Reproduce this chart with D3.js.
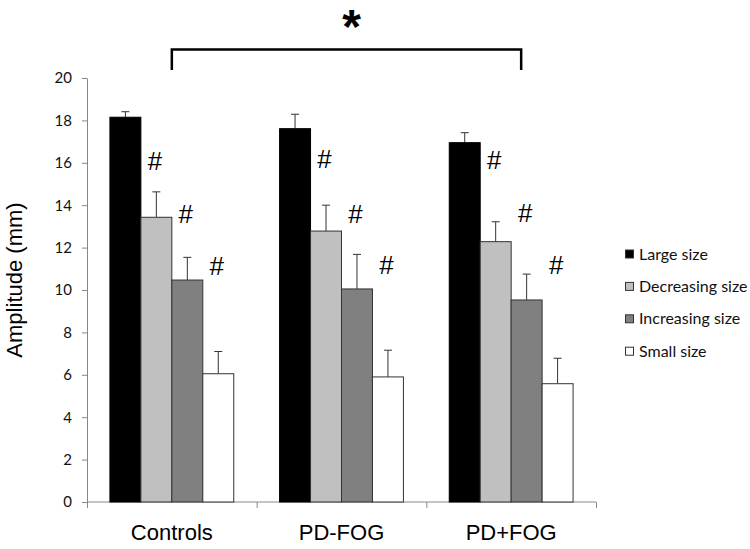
<!DOCTYPE html>
<html>
<head>
<meta charset="utf-8">
<script src="https://cdn.jsdelivr.net/npm/d3@7"></script>
<style>
  body { margin: 0; background: #fff; }
  #bar { width: 750px; height: 549px; }
</style>
</head>
<body>
<div id="bar"></div>
<script>
const groups = ["Controls", "PD-FOG", "PD+FOG"];
const series = ["Large size", "Decreasing size", "Increasing size", "Small size"];
const colors = ["#000000", "#c0c0c0", "#808080", "#ffffff"];

// means per group, in series order
const means = [
  [18.15, 13.43, 10.47, 6.05],
  [17.61, 12.78, 10.05, 5.90],
  [16.95, 12.28, 9.53, 5.58]
];
const errors = [
  [0.26, 1.2, 1.07, 1.05],
  [0.68, 1.22, 1.63, 1.26],
  [0.47, 0.94, 1.22, 1.2]
];
// y position (axis units) of the "#" marks next to bars 2-4
const hashY = [
  [16.1, 13.6, 11.15],
  [16.2, 13.6, 11.2],
  [16.15, 13.65, 11.2]
];
const yTicks = [0, 2, 4, 6, 8, 10, 12, 14, 16, 18, 20];

function drawBar() {
  const container = d3.select("#bar");
  container.selectAll("*").remove();

  const width = 750;
  const height = 549;
  const margin = { top: 78, right: 154, bottom: 47, left: 87 };

  const svg = container
    .append("svg")
    .attr("width", width)
    .attr("height", height);

  const x0 = d3.scaleBand()
    .domain(groups)
    .range([margin.left, width - margin.right])
    .padding(0);

  const x1 = d3.scaleBand()
    .domain(series)
    .range([0, x0.bandwidth()])
    .paddingInner(0)
    .paddingOuter(0.74);

  const y = d3.scaleLinear()
    .domain([0, 20])
    .range([height - margin.bottom, margin.top]);

  // y axis
  const yAxis = svg.append("g")
    .attr("transform", `translate(${margin.left},0)`)
    .call(d3.axisLeft(y).tickValues(yTicks).tickSize(5).tickSizeOuter(0).tickPadding(10));
  yAxis.select(".domain").attr("stroke", "#888");
  yAxis.selectAll(".tick line").attr("stroke", "#888");
  yAxis.selectAll("text")
    .attr("font-family", "Lato, 'Open Sans', sans-serif")
    .attr("font-size", 15)
    .attr("fill", "#111");

  // x axis: ticks at band boundaries
  const xAxis = svg.append("g")
    .attr("transform", `translate(0,${y(0)})`);
  xAxis.append("line")
    .attr("x1", margin.left)
    .attr("x2", width - margin.right)
    .attr("stroke", "#888");
  const bounds = groups.map(g => x0(g)).concat([x0(groups[groups.length - 1]) + x0.bandwidth()]);
  xAxis.selectAll(".xt")
    .data(bounds)
    .join("line")
    .attr("x1", d => d + 0.5)
    .attr("x2", d => d + 0.5)
    .attr("y1", 0)
    .attr("y2", 6)
    .attr("stroke", "#888");
  xAxis.selectAll(".xl")
    .data(groups)
    .join("text")
    .attr("x", d => x0(d) + x0.bandwidth() / 2)
    .attr("y", 38)
    .attr("text-anchor", "middle")
    .attr("font-family", "Arial, 'Liberation Sans', sans-serif")
    .attr("font-size", 22)
    .attr("fill", "#000")
    .text(d => d);

  // bars
  const g = svg.append("g");
  groups.forEach((grp, gi) => {
    const gx = x0(grp);
    series.forEach((s, si) => {
      const v = means[gi][si];
      const bx = gx + x1(s);
      const e = errors[gi][si];
      const cx = bx + x1.bandwidth() / 2;
      // error bar (upper only)
      g.append("line")
        .attr("x1", cx).attr("x2", cx)
        .attr("y1", y(v)).attr("y2", y(v + e))
        .attr("stroke", "#333").attr("stroke-width", 1);
      g.append("line")
        .attr("x1", cx - 4).attr("x2", cx + 4)
        .attr("y1", y(v + e)).attr("y2", y(v + e))
        .attr("stroke", "#333").attr("stroke-width", 1);
      g.append("rect")
        .attr("x", bx)
        .attr("y", y(v))
        .attr("width", x1.bandwidth())
        .attr("height", y(0) - y(v))
        .attr("fill", colors[si])
        .attr("stroke", si === 0 ? "#000" : "#333")
        .attr("stroke-width", 1);
    });
    // "#" marks
    hashY[gi].forEach((hy, hi) => {
      g.append("text")
        .attr("x", gx + x1(series[hi + 1]) + 14)
        .attr("y", y(hy))
        .attr("dy", "0.36em")
        .attr("text-anchor", "middle")
        .attr("font-family", "Arial, 'Liberation Sans', sans-serif")
        .attr("font-size", 26)
        .attr("fill", "#000")
        .text("#");
    });
  });

  // y axis title
  svg.append("text")
    .attr("transform", `translate(22,${y(10) - 10}) rotate(-90)`)
    .attr("text-anchor", "middle")
    .attr("font-family", "Arial, 'Liberation Sans', sans-serif")
    .attr("font-size", 22)
    .attr("fill", "#000")
    .text("Amplitude (mm)");

  // significance bracket
  const bl = x0(groups[0]) + x0.bandwidth() / 2;
  const br = x0(groups[2]) + x0.bandwidth() / 2 + 10;
  svg.append("path")
    .attr("d", `M${bl},70 V49.5 H${br} V70`)
    .attr("fill", "none")
    .attr("stroke", "#000")
    .attr("stroke-width", 2.5);
  svg.append("text")
    .attr("x", (bl + br) / 2 + 5)
    .attr("y", 43)
    .attr("text-anchor", "middle")
    .attr("font-family", "Arial, 'Liberation Sans', sans-serif")
    .attr("font-weight", "bold")
    .attr("font-size", 48)
    .attr("fill", "#000")
    .text("*");

  // legend
  const legend = svg.append("g")
    .attr("transform", "translate(625,254)");
  series.forEach((s, i) => {
    const row = legend.append("g").attr("transform", `translate(0,${i * 32.4})`);
    row.append("rect")
      .attr("x", 0.5).attr("y", -4)
      .attr("width", 8).attr("height", 8)
      .attr("fill", colors[i])
      .attr("stroke", "#333");
    row.append("text")
      .attr("x", 14)
      .attr("y", 0)
      .attr("dy", "0.35em")
      .attr("font-family", "Lato, 'Open Sans', sans-serif")
      .attr("font-size", 16)
      .attr("fill", "#111")
      .text(s);
  });
}

drawBar();
</script>
</body>
</html>
